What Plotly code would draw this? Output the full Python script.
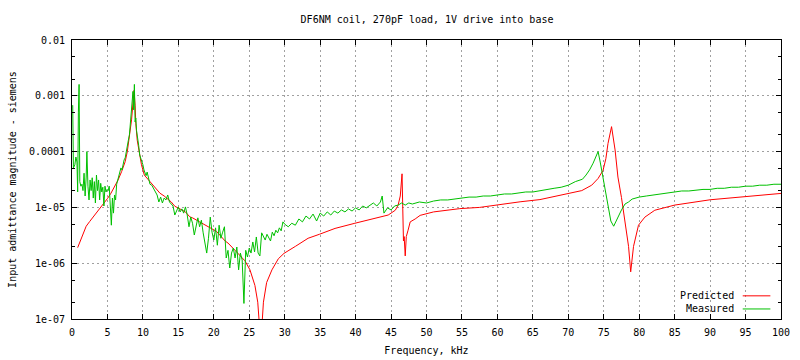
import plotly.graph_objects as go

# ---------------- data ----------------
pred_freq = [0.8, 1.0, 1.5, 2.0, 2.5, 3.0, 3.5, 4.0, 4.5, 5.0, 5.5, 6.0, 6.5, 7.0, 7.5, 7.8, 8.0, 8.2,
             8.4, 8.6, 8.75, 8.9, 9.0, 9.2, 9.5, 9.8, 10.2, 11.0, 12.0, 12.4, 13.0, 14.0, 14.5, 15.0,
             16.0, 16.6, 17.0, 18.0, 19.0, 20.0, 20.4, 21.6, 22.0, 23.0, 24.0, 24.4, 25.1, 25.8, 26.2,
             26.4, 26.6, 26.8, 27.0, 27.45, 28.2, 29.1, 29.9, 31.5, 33.3, 34.9, 37.1, 39.9, 42.3, 44.6,
             45.6, 46.0, 46.3, 46.55, 46.75, 46.85, 47.0, 47.15, 47.4, 47.7, 48.4, 49.1, 51.0, 54.7,
             57.5, 60.4, 63.2, 66.0, 68.5, 70.0, 71.9, 73.3, 74.2, 74.9, 75.3, 75.6, 76.1, 76.6, 77.0,
             77.5, 78.0, 78.5, 78.8, 79.2, 79.9, 80.8, 82.2, 83.6, 85.0, 90.0, 95.0, 100.0]
pred_val = [1.9e-6, 2.2e-6, 3.2e-6, 4.6e-6, 5.6e-6, 6.7e-6, 8.3e-6, 9.7e-6, 1.2e-5, 1.44e-5, 1.8e-5,
            2.3e-5, 3.1e-5, 4.4e-5, 6.6e-5, 1.0e-4, 1.5e-4, 2.0e-4, 3.7e-4, 7.4e-4, 1.25e-3, 6.8e-4,
            3.2e-4, 1.6e-4, 8.7e-5, 5.8e-5, 3.8e-5, 2.9e-5, 2.05e-5, 1.8e-5, 1.6e-5, 1.25e-5, 1.05e-5,
            9.8e-6, 8.3e-6, 6.8e-6, 6.5e-6, 5.5e-6, 4.6e-6, 3.9e-6, 3.7e-6, 2.5e-6, 2.3e-6, 1.7e-6,
            1.24e-6, 1.1e-6, 7.6e-7, 4.0e-7, 2.0e-7, 9e-8, 4e-8, 8e-8, 2.0e-7, 4.5e-7, 7.6e-7, 1.2e-6,
            1.5e-6, 2.0e-6, 2.8e-6, 3.3e-6, 4.2e-6, 5.2e-6, 6.1e-6, 7.3e-6, 8.9e-6, 1.1e-5, 1.6e-5,
            4.0e-5, 2.5e-6, 3.0e-6, 1.35e-6, 3.0e-6, 3.9e-6, 5.5e-6, 6.2e-6, 7.2e-6, 8.3e-6, 9.5e-6,
            1.0e-5, 1.14e-5, 1.26e-5, 1.38e-5, 1.6e-5, 1.8e-5, 2.0e-5, 2.5e-5, 3.3e-5, 4.6e-5, 7.5e-5,
            1.4e-4, 2.8e-4, 1.07e-4, 3.5e-5, 1.5e-5, 5.9e-6, 2.0e-6, 7.0e-7, 2.0e-6, 4.8e-6, 6.7e-6,
            8.9e-6, 1.0e-5, 1.1e-5, 1.37e-5, 1.58e-5, 1.78e-5]

meas_freq = [0.1, 0.2, 0.4, 0.55, 0.7, 0.8, 0.9, 1.0, 1.1, 1.25, 1.4, 1.55, 1.7, 1.85, 2.0, 2.1, 2.25,
             2.4, 2.55, 2.7, 2.85, 3.0, 3.15, 3.3, 3.45, 3.6, 3.75, 3.9, 4.05, 4.2, 4.35, 4.5, 4.65,
             4.8, 4.95, 5.1, 5.25, 5.4, 5.55, 5.7, 5.85, 6.0, 6.15, 6.3, 6.45, 6.6, 6.75, 6.9, 7.05,
             7.2, 7.35, 7.5, 7.65, 7.8, 7.95, 8.1, 8.25, 8.4, 8.5, 8.6, 8.7, 8.8, 8.9, 9.0, 9.1, 9.25,
             9.4, 9.55, 9.7, 9.85, 10.0, 10.15, 10.3, 10.45, 10.6, 10.75, 10.9, 11.0, 11.25, 11.5,
             11.75, 12.0, 12.25, 12.5, 12.75, 13.0, 13.25, 13.5, 13.75, 14.0, 14.25, 14.5, 14.75,
             15.0, 15.25, 15.5, 15.75, 16.0, 16.25, 16.5, 16.75, 17.0, 17.25, 17.5, 17.75, 18.0,
             18.25, 18.5, 18.75, 19.0, 19.25, 19.5, 19.75, 20.0, 20.25, 20.5, 20.75, 21.0, 21.25,
             21.5, 21.75, 22.0, 22.25, 22.5, 22.75, 23.0, 23.25, 23.5, 23.75, 24.0, 24.25, 24.5,
             24.75, 25.0, 25.25, 25.5, 25.75, 26.0, 26.25, 26.5, 26.75, 27.0, 27.25, 27.5, 27.75,
             28.0, 28.25, 28.5, 28.75, 29.0, 29.25, 29.5, 29.75, 30.0, 30.5, 31.0, 31.5, 32.0, 32.5,
             33.0, 33.5, 34.0, 34.5, 35.0, 35.5, 36.0, 36.5, 37.0, 37.5, 38.0, 38.5, 39.0, 39.5,
             40.0, 40.5, 41.0, 41.5, 42.0, 42.5, 43.0, 43.5, 43.75, 44.0, 44.5, 45.0, 45.5, 46.0,
             46.5, 47.0, 47.5, 48.0, 49.0, 50.0, 51.0, 52.0, 53.0, 54.0, 55.0, 56.0, 57.0, 58.0,
             59.0, 60.0, 61.0, 62.0, 63.0, 64.0, 65.0, 66.0, 67.0, 68.0, 69.0, 70.0, 71.0, 72.0,
             72.5, 73.0, 73.5, 74.0, 74.2, 74.5, 75.0, 75.5, 76.0, 76.4, 76.8, 77.5, 78.0, 78.5,
             79.0, 80.0, 81.0, 82.0, 83.0, 84.0, 85.0, 86.0, 87.0, 88.0, 89.0, 90.0, 91.0, 92.0,
             93.0, 94.0, 95.0, 96.0, 97.0, 98.0, 99.0, 100.0]
meas_val = [6.8e-4, 5.1e-5, 5.8e-5, 8.0e-5, 6.5e-5, 1.9e-5, 5.1e-4, 1.6e-3, 2.9e-5, 2.4e-5, 2.6e-5,
            2.0e-5, 4.1e-5, 1.6e-5, 3.5e-5, 1.0e-4, 2.4e-5, 1.36e-5, 3.1e-5, 2.0e-5, 3.4e-5, 1.47e-5,
            2.9e-5, 1.2e-5, 3.8e-5, 2.0e-5, 3.1e-5, 1.36e-5, 2.7e-5, 1.89e-5, 2.3e-5, 1.06e-5, 2.4e-5,
            1.89e-5, 2.1e-5, 2.0e-5, 2.4e-5, 1.1e-5, 4.8e-6, 1.47e-5, 7.9e-6, 1.67e-5, 1.36e-5, 2.6e-5,
            3.1e-5, 3.4e-5, 4.0e-5, 5.1e-5, 4.7e-5, 6.2e-5, 7.1e-5, 7.7e-5, 9.4e-5, 1.3e-4, 1.6e-4,
            2.0e-4, 3.7e-4, 5.6e-4, 8.4e-4, 1.2e-3, 5.6e-4, 1.6e-3, 3.4e-4, 4.0e-4, 2.4e-4, 1.5e-4,
            1.3e-4, 8.7e-5, 7.7e-5, 6.5e-5, 5.8e-5, 4.7e-5, 4.3e-5, 3.7e-5, 4.3e-5, 3.4e-5, 2.9e-5,
            2.6e-5, 2.5e-5, 2.2e-5, 1.97e-5, 1.67e-5, 1.25e-5, 1.53e-5, 1.2e-5, 1.47e-5, 1.36e-5,
            1.67e-5, 1.25e-5, 1.15e-5, 1.06e-5, 7.3e-6, 9.0e-6, 1.02e-5, 8.3e-6, 9.4e-6, 7.9e-6,
            1.02e-5, 7.3e-6, 4.5e-6, 6.7e-6, 5.2e-6, 3.2e-6, 4.8e-6, 6.5e-6, 4.5e-6, 5.9e-6, 3.5e-6,
            2.1e-6, 1.52e-6, 2.8e-6, 6.7e-6, 3.6e-6, 2.6e-6, 4.3e-6, 2.1e-6, 4.8e-6, 2.8e-6, 3.6e-6,
            4.5e-6, 1.24e-6, 1.7e-6, 8.2e-7, 1.52e-6, 1.87e-6, 1.24e-6, 1.95e-6, 7.6e-7, 1.52e-6,
            1.14e-6, 1.9e-7, 1.7e-6, 1.29e-6, 1.87e-6, 1.52e-6, 2.4e-6, 1.59e-6, 2.95e-6, 1.52e-6,
            1.35e-6, 3.5e-6, 3.1e-6, 2.6e-6, 3.3e-6, 2.8e-6, 2.5e-6, 3.6e-6, 3.1e-6, 3.9e-6, 3.5e-6,
            4.3e-6, 3.8e-6, 5.5e-6, 5.0e-6, 4.5e-6, 5.2e-6, 4.8e-6, 6.2e-6, 5.5e-6, 7.0e-6, 6.2e-6,
            7.6e-6, 5.7e-6, 7.9e-6, 7.0e-6, 8.3e-6, 7.3e-6, 8.6e-6, 7.9e-6, 9.0e-6, 8.3e-6, 9.4e-6,
            8.6e-6, 9.8e-6, 9.0e-6, 1.06e-5, 9.8e-6, 1.1e-5, 1.2e-5, 1.06e-5, 1.25e-5, 1.6e-5, 7.9e-6,
            9.8e-6, 9.0e-6, 1.06e-5, 1.1e-5, 1.2e-5, 1.1e-5, 1.2e-5, 1.15e-5, 1.25e-5, 1.2e-5, 1.3e-5,
            1.36e-5, 1.36e-5, 1.41e-5, 1.47e-5, 1.53e-5, 1.53e-5, 1.6e-5, 1.6e-5, 1.67e-5, 1.74e-5,
            1.74e-5, 1.81e-5, 1.89e-5, 1.89e-5, 1.97e-5, 2.05e-5, 2.2e-5, 2.3e-5, 2.5e-5, 2.9e-5,
            3.2e-5, 3.8e-5, 4.7e-5, 6.2e-5, 9.1e-5, 1.0e-4, 6.5e-5, 2.9e-5, 1.1e-5, 5.7e-6, 4.6e-6,
            5.9e-6, 9.0e-6, 1.15e-5, 1.25e-5, 1.41e-5, 1.53e-5, 1.6e-5, 1.67e-5, 1.74e-5, 1.81e-5,
            1.89e-5, 1.97e-5, 1.97e-5, 2.05e-5, 2.1e-5, 2.1e-5, 2.2e-5, 2.2e-5, 2.3e-5, 2.3e-5,
            2.4e-5, 2.4e-5, 2.5e-5, 2.5e-5, 2.6e-5, 2.6e-5]

x_tick_vals = list(range(0, 101, 5))
y_tick_vals = [1e-7, 1e-6, 1e-5, 1e-4, 1e-3, 1e-2]
y_tick_text = ["1e-07", "1e-06", "1e-05", "0.0001", "0.001", "0.01"]
y_minor_vals = [m * d for d in [1e-7, 1e-6, 1e-5, 1e-4, 1e-3] for m in (2, 5)]

title_text = "DF6NM coil, 270pF load, 1V drive into base"
x_title = "Frequency, kHz"
y_title = "Input admittance magnitude - siemens"
series_names = ["Predicted", "Measured"]
series_colors = ["#ff0000", "#00c000"]

FONT = "DejaVu Sans Mono"
FS = 10

fig = go.Figure()
fig.add_trace(go.Scatter(x=pred_freq, y=pred_val, mode="lines", name=series_names[0],
                         line=dict(color=series_colors[0], width=1), showlegend=False))
fig.add_trace(go.Scatter(x=meas_freq, y=meas_val, mode="lines", name=series_names[1],
                         line=dict(color=series_colors[1], width=1), showlegend=False))

grid = dict(showgrid=True, gridcolor="#a0a0a0", gridwidth=1, griddash="2px,3px")

fig.update_xaxes(range=[0, 100], tickmode="array", tickvals=x_tick_vals, automargin=False,
                 ticks="inside", ticklen=5, tickcolor="black", showline=True, linecolor="black",
                 linewidth=1, mirror="ticks", zeroline=False,
                 title=dict(text=x_title, standoff=9, font=dict(family=FONT, size=FS, color="black")),
                 tickfont=dict(family=FONT, size=FS, color="black"), ticklabelstandoff=4, **grid)
fig.update_yaxes(type="log", range=[-7, -2], tickmode="array", tickvals=y_tick_vals, automargin=False,
                 ticktext=y_tick_text, ticks="inside", ticklen=5, tickcolor="black",
                 showline=True, linecolor="black", linewidth=1, mirror="ticks", zeroline=False,
                 minor=dict(tickmode="array", tickvals=y_minor_vals, ticks="inside", ticklen=3,
                            tickcolor="black", showgrid=False),
                 title=dict(text=y_title, standoff=10, font=dict(family=FONT, size=FS, color="black")),
                 tickfont=dict(family=FONT, size=FS, color="black"), ticklabelstandoff=4, **grid)

# legend (gnuplot style: text then line sample), bottom-right inside the plot
legend_rows = [(0.083, series_names[0], series_colors[0]), (0.036, series_names[1], series_colors[1])]
for yp, name, col in legend_rows:
    fig.add_annotation(xref="paper", yref="paper", x=0.936, y=yp, text=name, showarrow=False,
                       xanchor="right", yanchor="middle", font=dict(family=FONT, size=FS, color="black"))
    fig.add_shape(type="line", xref="paper", yref="paper", x0=0.946, x1=0.985, y0=yp, y1=yp,
                  line=dict(color=col, width=1))

fig.update_layout(
    width=800, height=360,
    margin=dict(l=72, r=19, t=40, b=41),
    paper_bgcolor="white", plot_bgcolor="white",
    title=dict(text=title_text, x=0.5338, xanchor="center", y=0.947, yanchor="middle",
               font=dict(family=FONT, size=FS, color="black")),
    font=dict(family=FONT, size=FS, color="black"),
)

# remove the default 8px page margin so the figure sits at the window origin
fig.write_html("out.html", config={"displayModeBar": False},
               post_script="document.body.style.margin='0';")
